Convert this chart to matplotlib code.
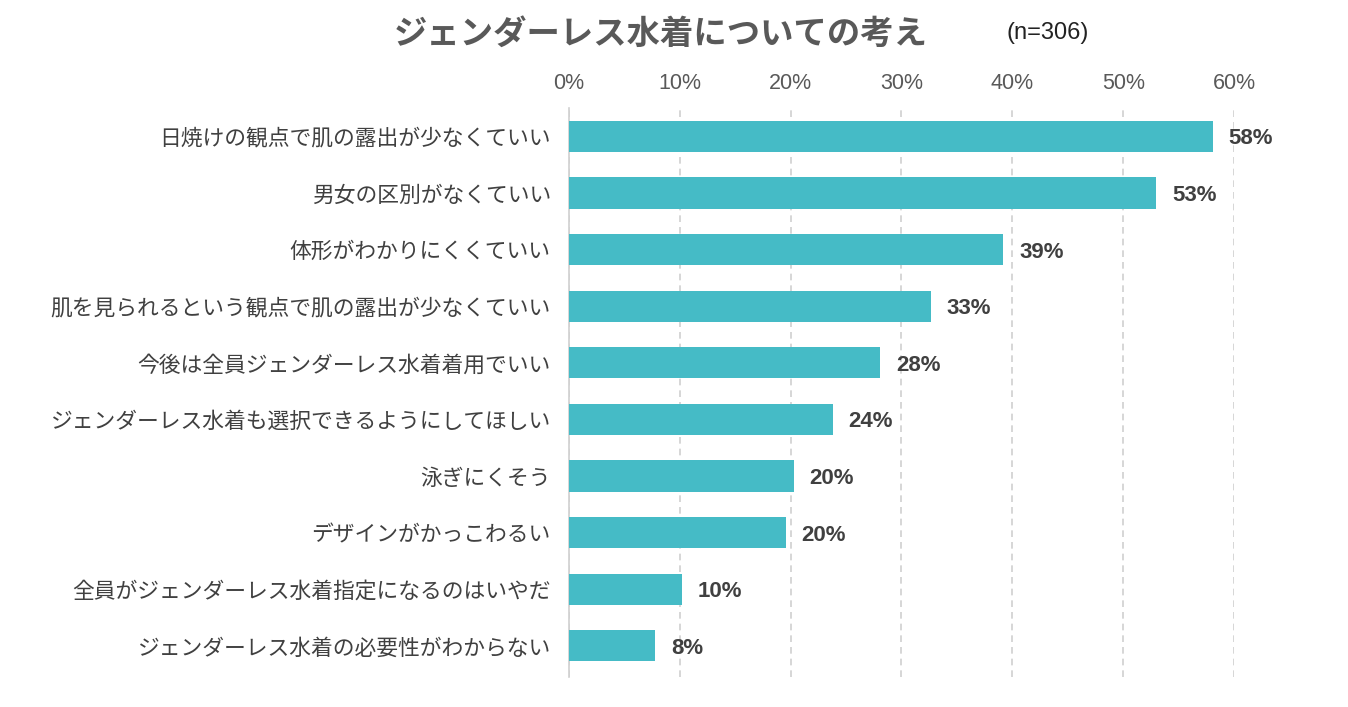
import matplotlib
matplotlib.use("Agg")
import matplotlib.pyplot as plt

plt.rcParams['font.family'] = ['Noto Sans CJK JP', 'DejaVu Sans']

categories = [
    "日焼けの観点で肌の露出が少なくていい",
    "男女の区別がなくていい",
    "体形がわかりにくくていい",
    "肌を見られるという観点で肌の露出が少なくていい",
    "今後は全員ジェンダーレス水着着用でいい",
    "ジェンダーレス水着も選択できるようにしてほしい",
    "泳ぎにくそう",
    "デザインがかっこわるい",
    "全員がジェンダーレス水着指定になるのはいやだ",
    "ジェンダーレス水着の必要性がわからない",
]
values = [58.1, 53.0, 39.2, 32.7, 28.1, 23.8, 20.3, 19.6, 10.2, 7.8]
xticks = [0, 10, 20, 30, 40, 50, 60]

fig = plt.figure(figsize=(13.48, 7.07), dpi=100)
ax = fig.add_axes([0.422, 0.0424, 0.4935, 0.8048])

y = range(len(categories))
ax.barh(y, values, height=0.55, color="#45BBC6", zorder=3)

for i, v in enumerate(values):
    ax.text(v + 1.4, i, f"{round(v)}%", va="center_baseline", ha="left",
            fontsize=16, fontweight="bold", color="#404040",
            family=["Liberation Sans"])

ax.set_xlim(0, 60)
ax.set_ylim(len(categories) - 0.45, -0.5)
ax.set_yticks(list(y))
ax.set_yticklabels(categories, fontsize=15.7, color="#404040")
ax.set_xticks(xticks)
ax.set_xticklabels([f"{t}%" for t in xticks], fontsize=15.5, color="#595959",
                   family=["Liberation Sans"])
ax.xaxis.tick_top()
ax.tick_params(axis="both", length=0)
ax.tick_params(axis="x", pad=10)
ax.tick_params(axis="y", pad=13)

ax.grid(axis="x", color="#D0D0D0", linestyle=(0, (4, 3)), linewidth=1.2, zorder=0)
for s in ["top", "right", "bottom"]:
    ax.spines[s].set_visible(False)
ax.spines["left"].set_color("#D0D0D0")
ax.spines["left"].set_linewidth(1.2)

fig.text(0.49, 0.952, "ジェンダーレス水着についての考え", ha="center", va="center",
         fontsize=24, fontweight="bold", color="#595959")
fig.text(0.777, 0.954, "(n=306)", ha="center", va="center", fontsize=17,
         color="#222222", family=["Liberation Sans"])

fig.savefig("out.png", dpi=100)
